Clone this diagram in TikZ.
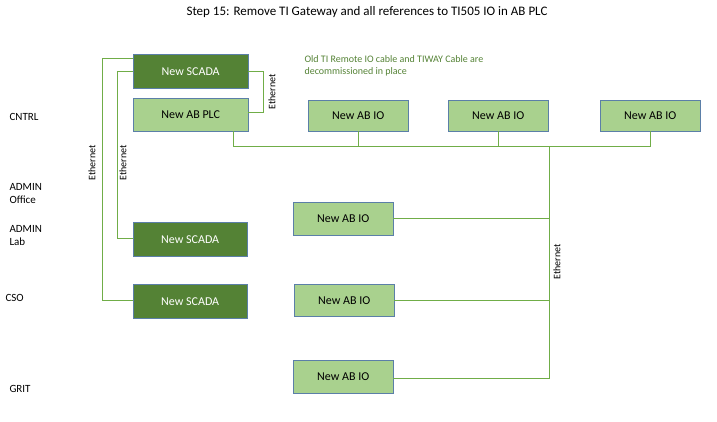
\documentclass[tikz,border=0pt]{standalone}
\usepackage{fontspec}
\setmainfont{Carlito}
\begin{document}
\begin{tikzpicture}[x=1pt,y=-1pt,
 dk/.style={draw=black!40!blue!30!gray,fill=green!30!black!70!green!80!black,text=white,font=\fontsize{12}{14}\selectfont,anchor=north west,inner sep=0pt},
 lt/.style={draw=blue!30!gray,fill=green!45!black!25!white,text=black,font=\fontsize{12}{14}\selectfont,anchor=north west,inner sep=0pt},
 ln/.style={draw=green!45!black!80!white,line width=1pt},
 lab/.style={font=\fontsize{11}{13}\selectfont,anchor=west},
 eth/.style={font=\fontsize{10}{12}\selectfont,rotate=90}]
\definecolor{dkg}{HTML}{548235}\definecolor{ltg}{HTML}{A9D18E}\definecolor{lng}{HTML}{70AD47}\definecolor{bd}{HTML}{5B7FA8}
\tikzset{dk/.append style={fill=dkg,draw=bd},lt/.append style={fill=ltg,draw=bd},ln/.append style={draw=lng}}
\useasboundingbox (0,0) rectangle (717,422);
\node[font=\fontsize{13}{15}\selectfont] (t) at (367,12) {Step 15: Remove TI Gateway and all references to TI505 IO in AB PLC};
\node[font=\fontsize{10}{12}\selectfont,text=dkg,align=left,anchor=north west] (note) at (301,52) {Old TI Remote IO cable and TIWAY Cable are\\decommissioned in place};
\node[lab] (l1) at (6,117) {CNTRL};
\node[lab,align=left] (l2) at (6,194) {ADMIN\\Office};
\node[lab,align=left] (l3) at (6,236) {ADMIN\\Lab};
\node[lab] (l4) at (2,298) {CSO};
\node[lab] (l5) at (6,389) {GRIT};
\node[dk,minimum width=115,minimum height=34] (s1) at (133,54) {New SCADA};
\node[lt,minimum width=115,minimum height=33] (plc) at (133,98) {New AB PLC};
\node[lt,minimum width=100,minimum height=31] (io1) at (308,100) {New AB IO};
\node[lt,minimum width=100,minimum height=31] (io2) at (448,100) {New AB IO};
\node[lt,minimum width=100,minimum height=31] (io3) at (600,100) {New AB IO};
\node[lt,minimum width=100,minimum height=33] (io4) at (293,202) {New AB IO};
\node[lt,minimum width=100,minimum height=32] (io5) at (294,284) {New AB IO};
\node[lt,minimum width=100,minimum height=33] (io6) at (293,360) {New AB IO};
\node[dk,minimum width=114,minimum height=34] (s2) at (133,222) {New SCADA};
\node[dk,minimum width=114,minimum height=34] (s3) at (133,284) {New SCADA};
\coordinate (b1) at (549,147); \coordinate (b2) at (549,378);
\draw[ln] (s1.east|-0,72) -- (263,72) -- (263,113) -- (plc.east|-0,113);
\node[eth] (e1) at (272,92) {Ethernet};
\draw[ln] (plc.south-|233,0) -- (233,147) -- (io3.south|-0,147) -- (io3.south);
\draw[ln] (io1.south) -- (io1.south|-0,147);
\draw[ln] (io2.south) -- (io2.south|-0,147);
\draw[ln] (b1) -- (b2) -- (io6.east|-b2);
\draw[ln] (io4.east) -- (io4.east-|b1);
\draw[ln] (io5.east) -- (io5.east-|b1);
\node[eth] (e2) at (557,262) {Ethernet};
\draw[ln] (s1.west|-0,59) -- (102,59) -- (102,300) -- (s3.west|-0,300);
\draw[ln] (s1.west|-0,72) -- (117,72) -- (117,238) -- (s2.west|-0,238);
\node[eth] (e3) at (92,163) {Ethernet};
\node[eth] (e4) at (123,163) {Ethernet};
\end{tikzpicture}
\end{document}
